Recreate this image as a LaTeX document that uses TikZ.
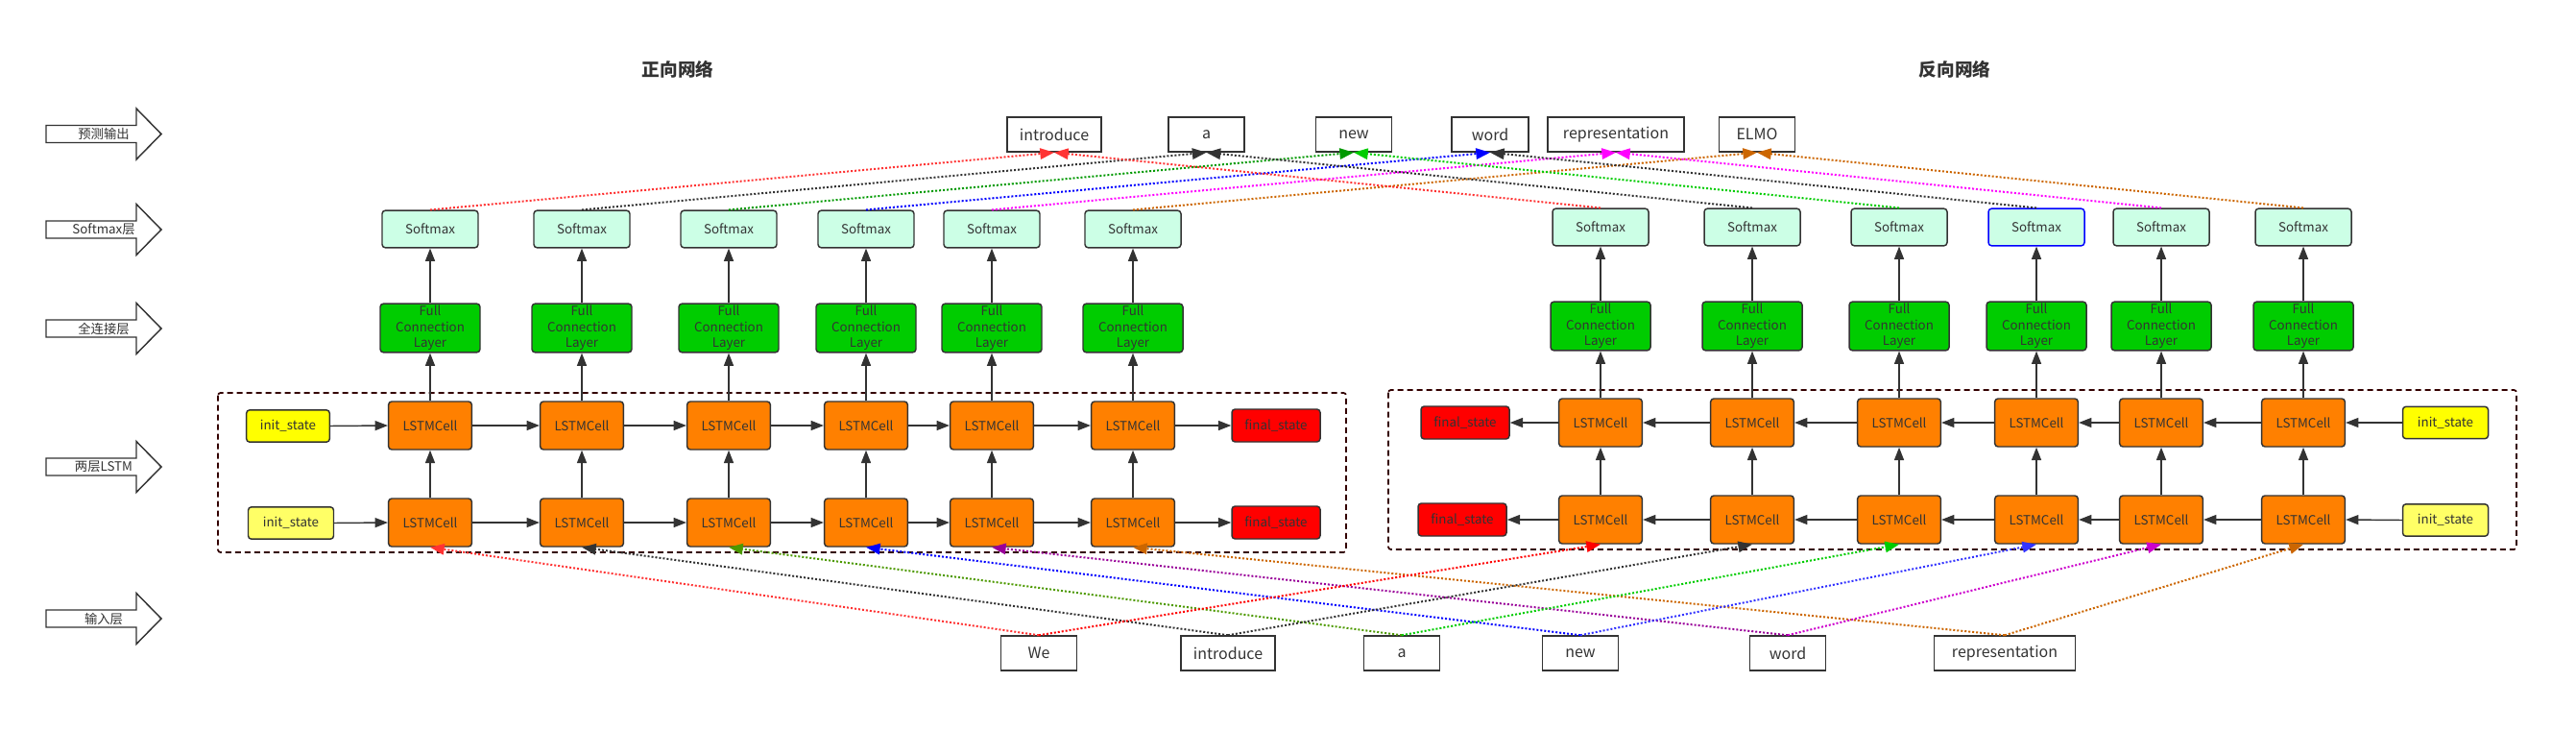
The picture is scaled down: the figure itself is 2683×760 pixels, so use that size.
\documentclass[tikz,border=0pt]{standalone}
\usepackage{fontspec}
\setmainfont{Noto Sans CJK SC}
\usepackage{tikz}
\usetikzlibrary{arrows.meta}

\definecolor{cdark}{HTML}{333333}
\definecolor{cmint}{HTML}{CCFFE6}
\definecolor{cgreen}{HTML}{00CC00}
\definecolor{corange}{HTML}{FF8000}
\definecolor{cyellow}{HTML}{FFFF00}
\definecolor{cpale}{HTML}{FFFF66}
\definecolor{cred}{HTML}{FF0000}
\definecolor{cframe}{HTML}{330000}
\definecolor{lred}{HTML}{FF3333}
\definecolor{lgreen}{HTML}{009900}
\definecolor{lolive}{HTML}{4D9900}
\definecolor{lblue}{HTML}{0000FF}
\definecolor{lblue2}{HTML}{3333FF}
\definecolor{lpink}{HTML}{FF00FF}
\definecolor{lpurple}{HTML}{990099}
\definecolor{lmag}{HTML}{CC00CC}
\definecolor{lbrown}{HTML}{CC6600}

\begin{document}
\begin{tikzpicture}[x=0.75pt,y=0.75pt,yscale=-1,xscale=1,
  box/.style={draw=cdark,line width=1.1pt,rounded corners=2.5pt,inner sep=0pt,text=cdark,font=\fontsize{10}{12.25}\selectfont},
  softbox/.style={box,fill=cmint,minimum width=75pt,minimum height=29pt},
  fcbox/.style={box,fill=cgreen,minimum width=78pt,minimum height=38pt,align=center},
  cellbox/.style={box,fill=corange,minimum width=65pt,minimum height=37.5pt},
  initbox/.style={box,fill=cyellow,minimum width=65pt,minimum height=25pt},
  finalbox/.style={box,fill=cred,minimum width=69pt,minimum height=25.5pt},
  wordbox/.style={draw=cdark,line width=1.1pt,inner sep=0pt,text=cdark,font=\fontsize{12}{14}\selectfont,minimum width=59pt,minimum height=27pt},
  layer/.style={draw=cdark,line width=1.1pt,fill=white},
  layertext/.style={text=cdark,font=\fontsize{10}{12}\selectfont},
  heading/.style={text=cdark,font=\bfseries\fontsize{14}{16}\selectfont},
  frame/.style={draw=cframe,line width=1.3pt,dash pattern=on 4.5pt off 3pt,rounded corners=2pt},
  flow/.style={draw=cdark,line width=1.1pt,-{Triangle[length=10pt,width=7.5pt]}},
  dots/.style={line width=1.5pt,dash pattern=on 1.5pt off 1.5pt,-{Triangle[length=11pt,width=8.5pt]}}
]
\useasboundingbox (0,0) rectangle (2683,760);

% Text Node
\node[heading] (fwdtitle) at (706,72) {正向网络};
% Text Node
\node[heading] (bwdtitle) at (2036,72) {反向网络};

%Shape: Right Arrow
\draw[layer] (48,130.5) -- (142,130.5) -- (142,113) -- (168,139.5) -- (142,166) -- (142,148.5) -- (48,148.5) -- cycle ;
%Shape: Right Arrow
\draw[layer] (48,230) -- (142,230) -- (142,212.5) -- (168,239) -- (142,265.5) -- (142,248) -- (48,248) -- cycle ;
%Shape: Right Arrow
\draw[layer] (48,333) -- (142,333) -- (142,315.5) -- (168,342) -- (142,368.5) -- (142,351) -- (48,351) -- cycle ;
%Shape: Right Arrow
\draw[layer] (48,477) -- (142,477) -- (142,459.5) -- (168,486) -- (142,512.5) -- (142,495) -- (48,495) -- cycle ;
%Shape: Right Arrow
\draw[layer] (48,635) -- (142,635) -- (142,617.5) -- (168,644) -- (142,670.5) -- (142,653) -- (48,653) -- cycle ;

% Text Node
\node[layertext] (lblpred) at (108,139.5) {预测输出};
% Text Node
\node[layertext] (lblsoft) at (108,239) {Softmax层};
% Text Node
\node[layertext] (lblfc) at (108,342) {全连接层};
% Text Node
\node[layertext] (lbllstm) at (108,486) {两层LSTM};
% Text Node
\node[layertext] (lblin) at (108,644) {输入层};

%Shape: Rectangle (dashed frames)
\draw[frame] (227,409) rectangle (1402,575) ;
\draw[frame] (1446,406) rectangle (2621,572) ;

% forward network
\node[softbox] (fs1) at (448,238.5) {Softmax};
\node[softbox] (fs2) at (606,238.5) {Softmax};
\node[softbox] (fs3) at (759,238.5) {Softmax};
\node[softbox] (fs4) at (902,238.5) {Softmax};
\node[softbox] (fs5) at (1033,238.5) {Softmax};
\node[softbox] (fs6) at (1180,238.5) {Softmax};

\node[fcbox] (ff1) at (448,341.5) {Full\\Connection\\Layer};
\node[fcbox] (ff2) at (606,341.5) {Full\\Connection\\Layer};
\node[fcbox] (ff3) at (759,341.5) {Full\\Connection\\Layer};
\node[fcbox] (ff4) at (902,341.5) {Full\\Connection\\Layer};
\node[fcbox] (ff5) at (1033,341.5) {Full\\Connection\\Layer};
\node[fcbox] (ff6) at (1180,341.5) {Full\\Connection\\Layer};

\node[initbox] (fit) at (300,443.5) {init\_state};
\node[cellbox] (ft1) at (448,443) {LSTMCell};
\node[cellbox] (ft2) at (606,443) {LSTMCell};
\node[cellbox] (ft3) at (759,443) {LSTMCell};
\node[cellbox] (ft4) at (902,443) {LSTMCell};
\node[cellbox] (ft5) at (1033,443) {LSTMCell};
\node[cellbox] (ft6) at (1180,443) {LSTMCell};
\node[finalbox] (fot) at (1329,443) {final\_state};

\node[initbox,fill=cpale,minimum width=66.75pt] (fib) at (303,544.5) {init\_state};
\node[cellbox] (fb1) at (448,544) {LSTMCell};
\node[cellbox] (fb2) at (606,544) {LSTMCell};
\node[cellbox] (fb3) at (759,544) {LSTMCell};
\node[cellbox] (fb4) at (902,544) {LSTMCell};
\node[cellbox] (fb5) at (1033,544) {LSTMCell};
\node[cellbox] (fb6) at (1180,544) {LSTMCell};
\node[finalbox] (fob) at (1329,544) {final\_state};

% backward network
\node[softbox] (bs1) at (1667,236.5) {Softmax};
\node[softbox] (bs2) at (1825,236.5) {Softmax};
\node[softbox] (bs3) at (1978,236.5) {Softmax};
\node[softbox,draw=lblue] (bs4) at (2121,236.5) {Softmax};
\node[softbox] (bs5) at (2251,236.5) {Softmax};
\node[softbox] (bs6) at (2399,236.5) {Softmax};

\node[fcbox] (bf1) at (1667,339.5) {Full\\Connection\\Layer};
\node[fcbox] (bf2) at (1825,339.5) {Full\\Connection\\Layer};
\node[fcbox] (bf3) at (1978,339.5) {Full\\Connection\\Layer};
\node[fcbox] (bf4) at (2121,339.5) {Full\\Connection\\Layer};
\node[fcbox] (bf5) at (2251,339.5) {Full\\Connection\\Layer};
\node[fcbox] (bf6) at (2399,339.5) {Full\\Connection\\Layer};

\node[finalbox] (bot) at (1526,440) {final\_state};
\node[cellbox] (bt1) at (1667,440) {LSTMCell};
\node[cellbox] (bt2) at (1825,440) {LSTMCell};
\node[cellbox] (bt3) at (1978,440) {LSTMCell};
\node[cellbox] (bt4) at (2121,440) {LSTMCell};
\node[cellbox] (bt5) at (2251,440) {LSTMCell};
\node[cellbox] (bt6) at (2399,440) {LSTMCell};
\node[initbox,minimum width=66.75pt] (bit) at (2547,440) {init\_state};

\node[finalbox] (bob) at (1523,541) {final\_state};
\node[cellbox] (bb1) at (1667,541) {LSTMCell};
\node[cellbox] (bb2) at (1825,541) {LSTMCell};
\node[cellbox] (bb3) at (1978,541) {LSTMCell};
\node[cellbox] (bb4) at (2121,541) {LSTMCell};
\node[cellbox] (bb5) at (2251,541) {LSTMCell};
\node[cellbox] (bb6) at (2399,541) {LSTMCell};
\node[initbox,fill=cpale,minimum width=66.75pt] (bib) at (2547,541.5) {init\_state};

% predicted words
\node[wordbox,minimum width=73.5pt] (oIntro) at (1098,140) {introduce};
\node[wordbox] (oA) at (1256.5,140) {a};
\node[wordbox] (oNew) at (1410,140) {new};
\node[wordbox,minimum width=60pt] (oWord) at (1552,140) {word};
\node[wordbox,minimum width=106.5pt] (oRep) at (1683,140) {representation};
\node[wordbox] (oElmo) at (1830,140) {ELMO};

% input words
\node[wordbox] (iWe) at (1082,680) {We};
\node[wordbox,minimum width=73.5pt] (iIntro) at (1279,680) {introduce};
\node[wordbox] (iA) at (1460,680) {a};
\node[wordbox] (iNew) at (1646,680) {new};
\node[wordbox] (iWord) at (1862,680) {word};
\node[wordbox,minimum width=110pt] (iRep) at (2088,680) {representation};

%Straight Lines (forward, both rows)
\draw[flow] (fit.east) -- (ft1.west) ;
\draw[flow] (ft1) -- (ft2) ;
\draw[flow] (ft2) -- (ft3) ;
\draw[flow] (ft3) -- (ft4) ;
\draw[flow] (ft4) -- (ft5) ;
\draw[flow] (ft5) -- (ft6) ;
\draw[flow] (ft6) -- (fot) ;
\draw[flow] (fib.east) -- (fb1.west) ;
\draw[flow] (fb1) -- (fb2) ;
\draw[flow] (fb2) -- (fb3) ;
\draw[flow] (fb3) -- (fb4) ;
\draw[flow] (fb4) -- (fb5) ;
\draw[flow] (fb5) -- (fb6) ;
\draw[flow] (fb6) -- (fob) ;

%Straight Lines (forward, upwards)
\draw[flow] (fb1) -- (ft1) ; \draw[flow] (ft1) -- (ff1) ; \draw[flow] (ff1) -- (fs1) ;
\draw[flow] (fb2) -- (ft2) ; \draw[flow] (ft2) -- (ff2) ; \draw[flow] (ff2) -- (fs2) ;
\draw[flow] (fb3) -- (ft3) ; \draw[flow] (ft3) -- (ff3) ; \draw[flow] (ff3) -- (fs3) ;
\draw[flow] (fb4) -- (ft4) ; \draw[flow] (ft4) -- (ff4) ; \draw[flow] (ff4) -- (fs4) ;
\draw[flow] (fb5) -- (ft5) ; \draw[flow] (ft5) -- (ff5) ; \draw[flow] (ff5) -- (fs5) ;
\draw[flow] (fb6) -- (ft6) ; \draw[flow] (ft6) -- (ff6) ; \draw[flow] (ff6) -- (fs6) ;

%Straight Lines (backward, both rows)
\draw[flow] (bit.west) -- (bt6.east) ;
\draw[flow] (bt6) -- (bt5) ;
\draw[flow] (bt5) -- (bt4) ;
\draw[flow] (bt4) -- (bt3) ;
\draw[flow] (bt3) -- (bt2) ;
\draw[flow] (bt2) -- (bt1) ;
\draw[flow] (bt1) -- (bot) ;
\draw[flow] (bib.west) -- (bb6.east) ;
\draw[flow] (bb6) -- (bb5) ;
\draw[flow] (bb5) -- (bb4) ;
\draw[flow] (bb4) -- (bb3) ;
\draw[flow] (bb3) -- (bb2) ;
\draw[flow] (bb2) -- (bb1) ;
\draw[flow] (bb1) -- (bob) ;

%Straight Lines (backward, upwards)
\draw[flow] (bb1) -- (bt1) ; \draw[flow] (bt1) -- (bf1) ; \draw[flow] (bf1) -- (bs1) ;
\draw[flow] (bb2) -- (bt2) ; \draw[flow] (bt2) -- (bf2) ; \draw[flow] (bf2) -- (bs2) ;
\draw[flow] (bb3) -- (bt3) ; \draw[flow] (bt3) -- (bf3) ; \draw[flow] (bf3) -- (bs3) ;
\draw[flow] (bb4) -- (bt4) ; \draw[flow] (bt4) -- (bf4) ; \draw[flow] (bf4) -- (bs4) ;
\draw[flow] (bb5) -- (bt5) ; \draw[flow] (bt5) -- (bf5) ; \draw[flow] (bf5) -- (bs5) ;
\draw[flow] (bb6) -- (bt6) ; \draw[flow] (bt6) -- (bf6) ; \draw[flow] (bf6) -- (bs6) ;

%Dotted Lines (softmax to predicted word)
\draw[dots,lred] (fs1.north) -- (oIntro.south) ;
\draw[dots,cdark] (fs2.north) -- (oA.south) ;
\draw[dots,lgreen] (fs3.north) -- (oNew.south) ;
\draw[dots,lblue] (fs4.north) -- (oWord.south) ;
\draw[dots,lpink] (fs5.north) -- (oRep.south) ;
\draw[dots,lbrown] (fs6.north) -- (oElmo.south) ;
\draw[dots,lred] (bs1.north) -- (oIntro.south) ;
\draw[dots,cdark] (bs2.north) -- (oA.south) ;
\draw[dots,cgreen] (bs3.north) -- (oNew.south) ;
\draw[dots,cdark] (bs4.north) -- (oWord.south) ;
\draw[dots,lpink] (bs5.north) -- (oRep.south) ;
\draw[dots,lbrown] (bs6.north) -- (oElmo.south) ;

%Dotted Lines (input word to first LSTM layer)
\draw[dots,lred] (iWe.north) -- (fb1.south) ;
\draw[dots,cdark] (iIntro.north) -- (fb2.south) ;
\draw[dots,lolive] (iA.north) -- (fb3.south) ;
\draw[dots,lblue] (iNew.north) -- (fb4.south) ;
\draw[dots,lpurple] (iWord.north) -- (fb5.south) ;
\draw[dots,lbrown] (iRep.north) -- (fb6.south) ;
\draw[dots,cred] (iWe.north) -- (bb1.south) ;
\draw[dots,cdark] (iIntro.north) -- (bb2.south) ;
\draw[dots,cgreen] (iA.north) -- (bb3.south) ;
\draw[dots,lblue2] (iNew.north) -- (bb4.south) ;
\draw[dots,lmag] (iWord.north) -- (bb5.south) ;
\draw[dots,lbrown] (iRep.north) -- (bb6.south) ;

\end{tikzpicture}
\end{document}
